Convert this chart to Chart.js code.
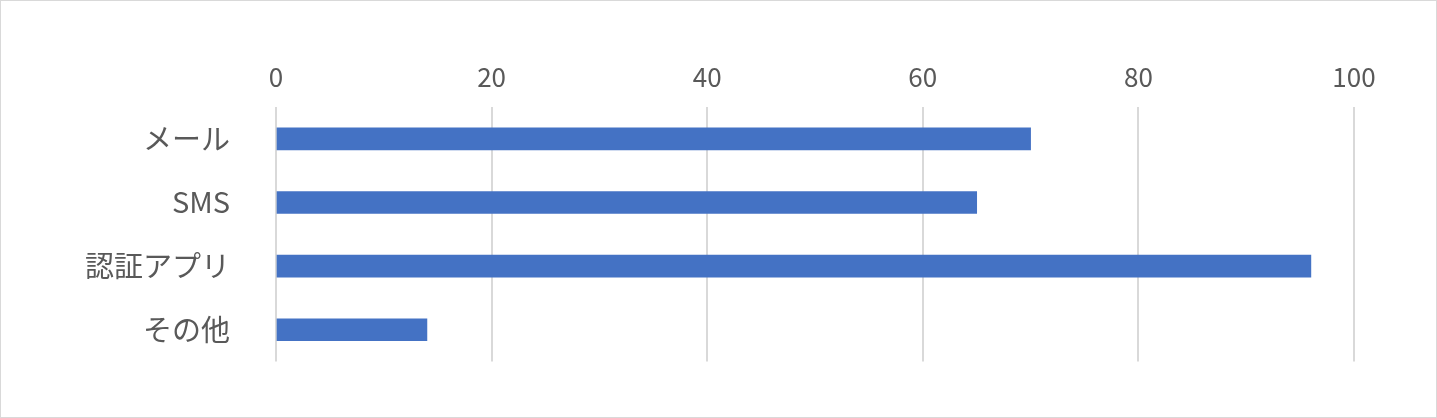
<!DOCTYPE html>
<html>
<head>
<meta charset="utf-8">
<script src="https://cdn.jsdelivr.net/npm/chart.js@4"></script>
<style>
  html, body { margin: 0; padding: 0; background: #fff; }
  #wrap { position: relative; width: 1435px; height: 416px; border: 1px solid #d9d9d9; }
</style>
</head>
<body>
<div id="wrap"><canvas id="chart"></canvas></div>
<script>
  const categories = ["メール", "SMS", "認証アプリ", "その他"];
  const values = [70, 65, 96, 14];
  const tickMin = 0;
  const tickMax = 100;
  const tickStep = 20;

  const fontFamily = "'Noto Sans CJK JP', 'Noto Sans', sans-serif";

  new Chart(document.getElementById("chart"), {
    type: "bar",
    data: {
      labels: categories,
      datasets: [{ data: values, backgroundColor: "#4472c4", barThickness: 22 }],
    },
    options: {
      indexAxis: "y",
      responsive: true,
      maintainAspectRatio: false,
      animation: false,
      layout: { padding: { left: 0, right: 82, top: 0, bottom: 50 } },
      plugins: { legend: { display: false }, tooltip: { enabled: false } },
      scales: {
        x: {
          position: "top",
          min: tickMin,
          max: tickMax,
          ticks: { stepSize: tickStep, color: "#595959", font: { family: fontFamily, size: 26 }, padding: 14 },
          grid: { color: "#d9d9d9", lineWidth: 2, drawTicks: false },
          border: { display: false },
          afterFit: (axis) => { axis.height = 106; },
        },
        y: {
          ticks: { color: "#595959", font: { family: fontFamily, size: 29 }, padding: 38 },
          grid: { display: false },
          border: { display: false },
          afterFit: (axis) => { axis.width = 275; },
        },
      },
    },
  });
</script>
</body>
</html>
